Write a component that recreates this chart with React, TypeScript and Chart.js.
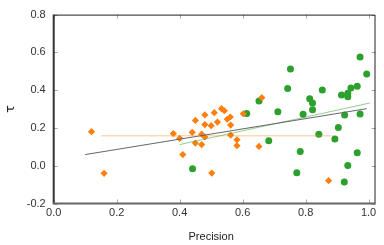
import React, { useEffect, useRef } from "react";
import { Chart, registerables } from "chart.js";

Chart.register(...registerables);

const orangeX = [0.12, 0.16, 0.38, 0.40, 0.41, 0.44, 0.45, 0.45, 0.47, 0.47, 0.48, 0.48, 0.48, 0.50, 0.51, 0.52, 0.533, 0.542, 0.551, 0.561, 0.562, 0.562, 0.582, 0.582, 0.602, 0.661, 0.652, 0.502, 0.873];
const orangeY = [0.18, -0.04, 0.17, 0.145, 0.059, 0.177, 0.24, 0.12, 0.167, 0.112, 0.269, 0.218, 0.152, 0.212, 0.281, 0.231, 0.302, 0.291, 0.246, 0.258, 0.215, 0.162, 0.137, 0.106, 0.275, 0.36, 0.102, -0.039, -0.079];

const greenX = [0.973, 0.994, 0.752, 0.743, 0.853, 0.813, 0.822, 0.822, 0.792, 0.712, 0.652, 0.613, 0.914, 0.934, 0.934, 0.944, 0.964, 0.924, 0.973, 0.904, 0.842, 0.893, 0.683, 0.783, 0.964, 0.934, 0.772, 0.923, 0.441];
const greenY = [0.575, 0.485, 0.512, 0.409, 0.401, 0.354, 0.332, 0.296, 0.272, 0.286, 0.342, 0.277, 0.375, 0.384, 0.365, 0.412, 0.421, 0.269, 0.274, 0.202, 0.167, 0.141, 0.132, 0.075, 0.068, 0.001, -0.037, -0.086, -0.016];

const blackLineX = [0.10, 0.994];
const blackLineY = [0.059, 0.302];
const greenLineX = [0.40, 1.004];
const greenLineY = [0.112, 0.332];
const orangeLineX = [0.15, 0.888];
const orangeLineY = [0.158, 0.158];

const xTicks = [0, 0.2, 0.4, 0.6, 0.8, 1.0];
const yTicks = [-0.2, 0, 0.2, 0.4, 0.6, 0.8];

const pts = (xs: number[], ys: number[]) => xs.map((x, i) => ({ x, y: ys[i] }));

const framePlugin = {
  id: "frame",
  afterDraw(chart: any) {
    const { ctx, chartArea: a, scales } = chart;
    const xs = scales.x;
    const ys = scales.y;
    ctx.save();
    ctx.strokeStyle = "#aaaaaa";
    ctx.lineWidth = 1;
    for (const v of xTicks) {
      const px = Math.round(xs.getPixelForValue(v)) + 0.5;
      ctx.beginPath();
      ctx.moveTo(px, a.bottom);
      ctx.lineTo(px, a.bottom - 4);
      ctx.moveTo(px, a.top);
      ctx.lineTo(px, a.top + 4);
      ctx.stroke();
    }
    for (const v of yTicks) {
      const py = Math.round(ys.getPixelForValue(v)) + 0.5;
      ctx.beginPath();
      ctx.moveTo(a.left, py);
      ctx.lineTo(a.left + 4, py);
      ctx.moveTo(a.right, py);
      ctx.lineTo(a.right - 4, py);
      ctx.stroke();
    }
    ctx.strokeStyle = "#222222";
    ctx.lineWidth = 1;
    ctx.beginPath();
    ctx.moveTo(a.left, a.top + 0.5);
    ctx.lineTo(a.right - 0.5, a.top + 0.5);
    ctx.lineTo(a.right - 0.5, a.bottom);
    ctx.stroke();
    ctx.lineWidth = 2;
    ctx.strokeStyle = "#333333";
    ctx.beginPath();
    ctx.moveTo(a.left, a.top);
    ctx.lineTo(a.left, a.bottom);
    ctx.stroke();
    ctx.strokeStyle = "#666666";
    ctx.beginPath();
    ctx.moveTo(a.left - 1, a.bottom);
    ctx.lineTo(a.right, a.bottom);
    ctx.stroke();
    ctx.fillStyle = "#222222";
    ctx.font = "11px 'Liberation Sans', Arial, sans-serif";
    ctx.textAlign = "center";
    ctx.textBaseline = "middle";
    ctx.fillText("Precision", (a.left + xs.getPixelForValue(1.0)) / 2, 237);
    ctx.translate(11, (a.top + a.bottom) / 2);
    ctx.rotate(-Math.PI / 2);
    ctx.font = "13px 'DejaVu Sans', sans-serif";
    ctx.fillText("τ", 0, 0);
    ctx.restore();
  },
};

export default function App() {
  const ref = useRef<HTMLCanvasElement | null>(null);
  useEffect(() => {
    if (!ref.current) return;
    const chart = new Chart(ref.current, {
      type: "scatter",
      data: {
        datasets: [
          {
            data: pts(blackLineX, blackLineY),
            showLine: true,
            borderColor: "#666666",
            borderWidth: 1,
            pointRadius: 0,
          },
          {
            data: pts(greenLineX, greenLineY),
            showLine: true,
            borderColor: "rgba(44,160,44,0.5)",
            borderWidth: 1,
            pointRadius: 0,
          },
          {
            data: pts(orangeLineX, orangeLineY),
            showLine: true,
            borderColor: "rgba(255,127,14,0.3)",
            borderWidth: 1.5,
            pointRadius: 0,
          },
          {
            data: pts(orangeX, orangeY),
            pointStyle: "rectRot",
            pointRadius: 3.6,
            backgroundColor: "#ff7f0e",
            borderColor: "#ff7f0e",
            borderWidth: 0,
          },
          {
            data: pts(greenX, greenY),
            pointStyle: "circle",
            pointRadius: 3.5,
            backgroundColor: "#2ca02c",
            borderColor: "#2ca02c",
            borderWidth: 0,
          },
        ],
      },
      plugins: [framePlugin],
      options: {
        animation: false,
        responsive: false,
        maintainAspectRatio: false,
        layout: { padding: { left: 0, right: 8.5, top: 12.5, bottom: 0 } },
        plugins: { legend: { display: false }, tooltip: { enabled: false } },
        scales: {
          x: {
            type: "linear",
            min: 0,
            max: 1.022,
            afterBuildTicks: (s: any) => {
              s.ticks = xTicks.map((v) => ({ value: v }));
            },
            afterFit: (s: any) => {
              s.height = 41.5;
            },
            grid: { display: false, drawTicks: false },
            border: { display: false },
            ticks: {
              padding: 3,
              color: "#333333",
              font: { family: "'Liberation Sans', Arial, sans-serif", size: 11 },
              maxRotation: 0,
              callback: (v: any) => Number(v).toFixed(1),
            },
          },
          y: {
            type: "linear",
            min: -0.2,
            max: 0.8,
            afterBuildTicks: (s: any) => {
              s.ticks = yTicks.map((v) => ({ value: v }));
            },
            afterFit: (s: any) => {
              s.width = 53.7;
            },
            grid: { display: false, drawTicks: false },
            border: { display: false },
            ticks: {
              padding: 8,
              color: "#333333",
              font: { family: "'Liberation Sans', Arial, sans-serif", size: 11 },
              callback: (v: any) => Number(v).toFixed(1),
            },
          },
        },
      },
    });
    return () => chart.destroy();
  }, []);
  return (
    <div style={{ position: "fixed", left: 0, top: 0, width: 384, height: 245, background: "#fff" }}>
      <canvas ref={ref} width={384} height={245} style={{ width: 384, height: 245 }} />
    </div>
  );
}
